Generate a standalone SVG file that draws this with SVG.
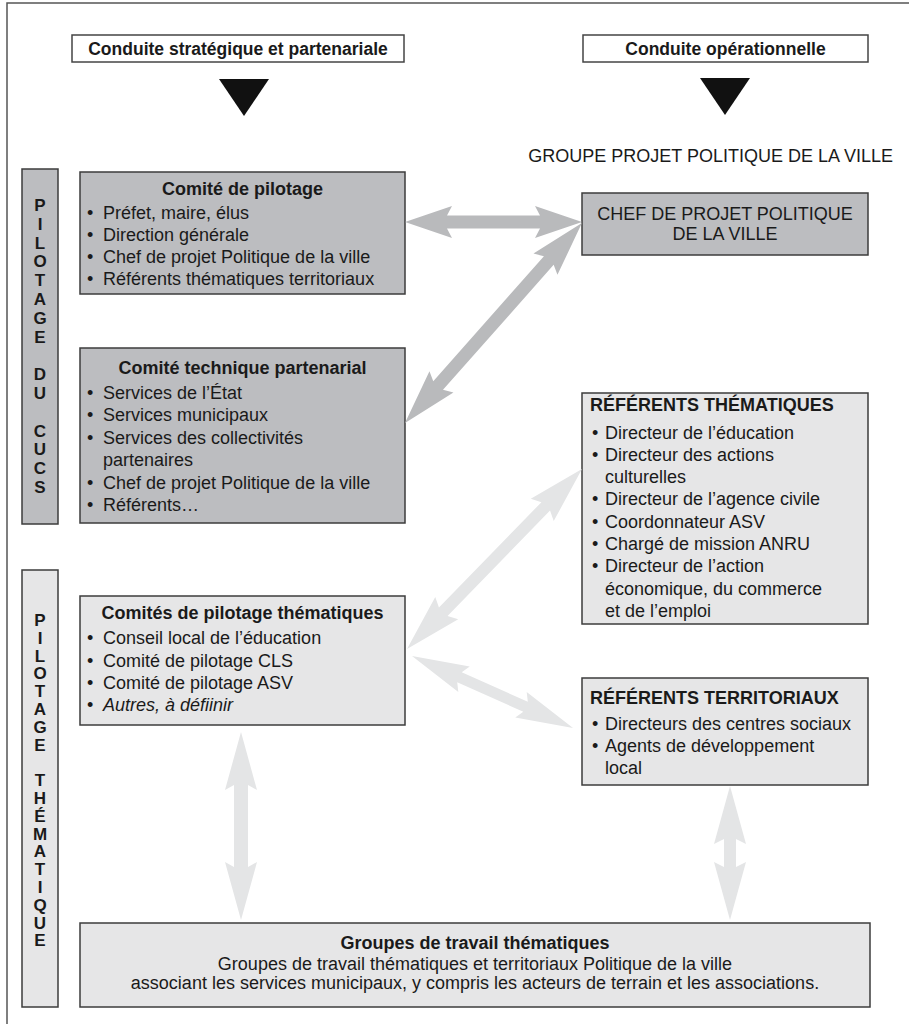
<svg xmlns="http://www.w3.org/2000/svg" width="909" height="1024" viewBox="0 0 909 1024">
<style>
text{font-family:"Liberation Sans",Arial,Helvetica,sans-serif;fill:#1a1a1a;font-size:18px}
.b{font-weight:bold}
.c{text-anchor:middle}
.e{text-anchor:end}
.i{font-style:italic}
.hdr{fill:#fff;stroke:#444;stroke-width:1.5}
.dk{fill:#bcbdc0;stroke:#3c3c3c;stroke-width:1.5}
.lt{fill:#e6e6e7;stroke:#3c3c3c;stroke-width:1.5}
.ad{fill:#b9babc}
.al{fill:#e4e5e6}
.vl{font-weight:bold;font-size:17px;text-anchor:middle}
</style>
<rect width="909" height="1024" fill="#fff"/>
<path d="M7,1024 V3 H909" fill="none" stroke="#555" stroke-width="1.5"/>

<g id="header-strategique">
<rect class="hdr" x="72" y="35" width="332" height="27"/>
<text class="b c" x="238" y="54.5" style="font-size:17.5px">Conduite stratégique et partenariale</text>
<polygon points="219,79 269,79 244,116" fill="#111"/>
</g>
<g id="header-operationnelle">
<rect class="hdr" x="583" y="35" width="285" height="27"/>
<text class="b c" x="725.5" y="54.5" style="font-size:17.5px">Conduite opérationnelle</text>
<polygon points="700,78 750,78 725,115" fill="#111"/>
</g>
<g id="groupe-projet">
<text class="e" x="893" y="161.5">GROUPE PROJET POLITIQUE DE LA VILLE</text>
</g>

<g id="bar-cucs">
<rect class="dk" x="22" y="169" width="36" height="355"/>
<text class="vl"><tspan x="40" y="211">P</tspan><tspan x="40" y="230">I</tspan><tspan x="40" y="249">L</tspan><tspan x="40" y="267">O</tspan><tspan x="40" y="286">T</tspan><tspan x="40" y="305">A</tspan><tspan x="40" y="324">G</tspan><tspan x="40" y="343">E</tspan><tspan x="40" y="380">D</tspan><tspan x="40" y="399">U</tspan><tspan x="40" y="437">C</tspan><tspan x="40" y="455">U</tspan><tspan x="40" y="474">C</tspan><tspan x="40" y="493">S</tspan></text>
</g>

<g id="bar-thematique">
<rect class="lt" x="22" y="570" width="36" height="437"/>
<text class="vl"><tspan x="40" y="626">P</tspan><tspan x="40" y="644">I</tspan><tspan x="40" y="662">L</tspan><tspan x="40" y="679">O</tspan><tspan x="40" y="697">T</tspan><tspan x="40" y="715">A</tspan><tspan x="40" y="733">G</tspan><tspan x="40" y="751">E</tspan><tspan x="40" y="786">T</tspan><tspan x="40" y="804">H</tspan><tspan x="40" y="822">É</tspan><tspan x="40" y="840">M</tspan><tspan x="40" y="857">A</tspan><tspan x="40" y="875">T</tspan><tspan x="40" y="893">I</tspan><tspan x="40" y="911">Q</tspan><tspan x="40" y="929">U</tspan><tspan x="40" y="946">E</tspan></text>
</g>

<g id="comite-pilotage">
<rect class="dk" x="80" y="172" width="325" height="122"/>
<text class="b c" x="242.5" y="195">Comité de pilotage</text>
<text><tspan x="87" y="218.5">•</tspan><tspan x="103" y="218.5">Préfet, maire, élus</tspan><tspan x="87" y="240.5">•</tspan><tspan x="103" y="240.5">Direction générale</tspan><tspan x="87" y="262.5">•</tspan><tspan x="103" y="262.5">Chef de projet Politique de la ville</tspan><tspan x="87" y="284.5">•</tspan><tspan x="103" y="284.5">Référents thématiques territoriaux</tspan></text>
</g>

<g id="comite-technique">
<rect class="dk" x="80" y="348" width="325" height="175"/>
<text class="b c" x="242.5" y="373.5">Comité technique partenarial</text>
<text><tspan x="87" y="398.5">•</tspan><tspan x="103" y="398.5">Services de l’État</tspan><tspan x="87" y="421">•</tspan><tspan x="103" y="421">Services municipaux</tspan><tspan x="87" y="443.5">•</tspan><tspan x="103" y="443.5">Services des collectivités</tspan><tspan x="103" y="466">partenaires</tspan><tspan x="87" y="488.5">•</tspan><tspan x="103" y="488.5">Chef de projet Politique de la ville</tspan><tspan x="87" y="511">•</tspan><tspan x="103" y="511">Référents…</tspan></text>
</g>

<g id="comites-thematiques">
<rect class="lt" x="80" y="596" width="325" height="129"/>
<text class="b c" x="242.5" y="619">Comités de pilotage thématiques</text>
<text><tspan x="87" y="644">•</tspan><tspan x="103" y="644">Conseil local de l’éducation</tspan><tspan x="87" y="666.5">•</tspan><tspan x="103" y="666.5">Comité de pilotage CLS</tspan><tspan x="87" y="688.5">•</tspan><tspan x="103" y="688.5">Comité de pilotage ASV</tspan><tspan x="87" y="710.5">•</tspan><tspan class="i" x="103" y="710.5">Autres, à défiinir</tspan></text>
</g>

<g id="chef-projet">
<rect class="dk" x="582" y="193" width="286" height="62"/>
<text class="c" x="725" y="219.5">CHEF DE PROJET POLITIQUE</text>
<text class="c" x="725" y="239.8">DE LA VILLE</text>
</g>

<g id="referents-thematiques">
<rect class="lt" x="582" y="393" width="286" height="231"/>
<text class="b" x="590" y="410.5">RÉFÉRENTS THÉMATIQUES</text>
<text><tspan x="592" y="438.5">•</tspan><tspan x="605" y="438.5">Directeur de l’éducation</tspan><tspan x="592" y="460.8">•</tspan><tspan x="605" y="460.8">Directeur des actions</tspan><tspan x="605" y="483.1">culturelles</tspan><tspan x="592" y="505.4">•</tspan><tspan x="605" y="505.4">Directeur de l’agence civile</tspan><tspan x="592" y="527.7">•</tspan><tspan x="605" y="527.7">Coordonnateur ASV</tspan><tspan x="592" y="550">•</tspan><tspan x="605" y="550">Chargé de mission ANRU</tspan><tspan x="592" y="572.3">•</tspan><tspan x="605" y="572.3">Directeur de l’action</tspan><tspan x="605" y="594.6">économique, du commerce</tspan><tspan x="605" y="616.9">et de l’emploi</tspan></text>
</g>

<g id="referents-territoriaux">
<rect class="lt" x="582" y="678" width="286" height="107"/>
<text class="b" x="590" y="703.5">RÉFÉRENTS TERRITORIAUX</text>
<text><tspan x="592" y="729.5">•</tspan><tspan x="605" y="729.5">Directeurs des centres sociaux</tspan><tspan x="592" y="751.5">•</tspan><tspan x="605" y="751.5">Agents de développement</tspan><tspan x="605" y="773.5">local</tspan></text>
</g>

<g id="groupes-travail">
<rect class="lt" x="80" y="923" width="790" height="84"/>
<text class="b c" x="475" y="948.5">Groupes de travail thématiques</text>
<text class="c" x="475" y="969.5">Groupes de travail thématiques et territoriaux Politique de la ville</text>
<text class="c" x="475" y="988.5">associant les services municipaux, y compris les acteurs de terrain et les associations.</text>
</g>

<g id="connectors">
<path class="ad" transform="translate(405,222)" d="M0,0 L47,-16 L42,-6.5 L135,-6.5 L130,-16 L177,0 L130,16 L135,6.5 L42,6.5 L47,16 Z"/>
<path class="ad" transform="translate(405,423) rotate(-48.5)" d="M0,0 L55,-16 L50,-6.5 L217,-6.5 L212,-16 L267,0 L212,16 L217,6.5 L50,6.5 L55,16 Z"/>
<path class="al" transform="translate(407,649) rotate(-45.8)" d="M0,0 L57,-16 L52,-6 L199,-6 L194,-16 L251,0 L194,16 L199,6 L52,6 L57,16 Z"/>
<path class="al" transform="translate(412,656) rotate(24.1)" d="M0,0 L57,-14 L52,-5.5 L124.4,-5.5 L119.4,-14 L176.4,0 L119.4,14 L124.4,5.5 L52,5.5 L57,14 Z"/>
<path class="al" transform="translate(241,732) rotate(90)" d="M0,0 L58,-16 L53,-7 L135,-7 L130,-16 L188,0 L130,16 L135,7 L53,7 L58,16 Z"/>
<path class="al" transform="translate(730,786) rotate(90)" d="M0,0 L58,-16 L53,-6 L81,-6 L76,-16 L134,0 L76,16 L81,6 L53,6 L58,16 Z"/>
</g>
</svg>
